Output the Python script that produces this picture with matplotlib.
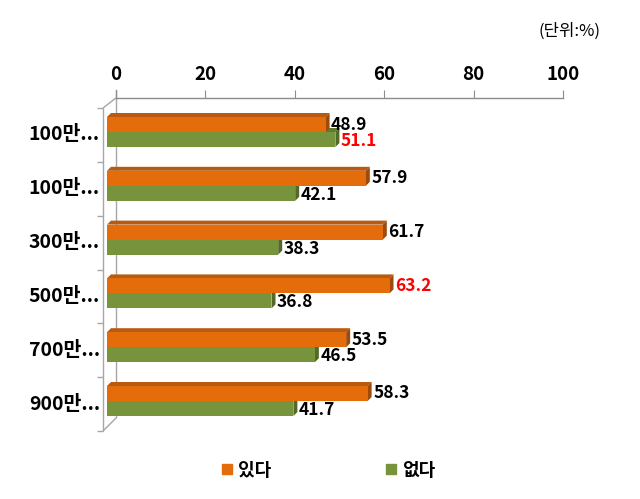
import matplotlib
matplotlib.use("Agg")
import matplotlib.pyplot as plt
from matplotlib.patches import Polygon, Rectangle
from matplotlib.lines import Line2D
import numpy as np

plt.rcParams['font.family'] = ['Noto Sans CJK KR', 'DejaVu Sans']

categories = ["100만...", "100만...", "300만...", "500만...", "700만...", "900만..."]
series_names = ["있다", "없다"]
yes_vals = [48.9, 57.9, 61.7, 63.2, 53.5, 58.3]
no_vals = [51.1, 42.1, 38.3, 36.8, 46.5, 41.7]
yes_label_colors = ["black", "black", "black", "red", "black", "black"]
no_label_colors = ["red", "black", "black", "black", "black", "black"]
xticks = [0, 20, 40, 60, 80, 100]
unit_text = "(단위:%)"

W, H = 640, 499
fig = plt.figure(figsize=(W / 100, H / 100), dpi=100)

# axes: x 0->116px, 100->563px ; y top 98px, bottom 418px
left_px, right_px, top_px, bot_px = 116, 563, 98, 418
ax = fig.add_axes([left_px / W, 1 - bot_px / H, (right_px - left_px) / W, (bot_px - top_px) / H])
pxx = 100 / (right_px - left_px)      # data units per px (x)
pxy = 1 / 53.8                         # data units per px (y)
y0 = 132                               # px of first group boundary
ax.set_xlim(0, 100)
ax.set_ylim((bot_px - y0) * pxy, (top_px - y0) * pxy)

for s in ["left", "right", "bottom"]:
    ax.spines[s].set_visible(False)
ax.spines["top"].set_color("#8C8C8C")
ax.spines["top"].set_linewidth(1.0)
ax.xaxis.tick_top()
ax.set_xticks(xticks)
ax.set_xticklabels([str(t) for t in xticks], fontsize=13.5, fontweight="bold")
ax.tick_params(axis="x", length=6, color="#8C8C8C", pad=4)
ax.set_yticks([])

wall = "#A6A6A6"
# wall geometry
fx = (103 - left_px) * pxx
f_top = (108 - y0) * pxy
f_bot = (431 - y0) * pxy
b_top = (98 - y0) * pxy
b_bot = (418 - y0) * pxy
kw = dict(color=wall, lw=1.0, clip_on=False, solid_capstyle="butt")
ax.plot([0, 0], [b_top, b_bot], **kw)
ax.plot([fx, fx], [f_top, f_bot], **kw)
ax.plot([fx, 0], [f_top, b_top], **kw)
ax.plot([fx, 0], [f_bot, b_bot], **kw)
ax.plot([0, 0], [b_top, b_top - 8 * pxy], color="#8C8C8C", lw=1.0, clip_on=False)
for yt in np.linspace(f_top, f_bot, len(categories) + 1):
    ax.plot([fx - 6 * pxx, fx], [yt, yt], **kw)

# bars
n = len(categories)
bh = 15 * pxy
dx = 4 * pxx
dy = -4 * pxy
x0 = (107 - left_px) * pxx
c_or, c_or_top, c_or_side = "#E46C0A", "#B85A10", "#9E4A0A"
c_gr, c_gr_top, c_gr_side = "#77933C", "#5F7A2E", "#536A27"


def bar3d(yb, yt, v, fc, tc, sc):
    x1 = x0 + v
    ax.add_patch(Polygon([[x0, yt], [x0 + dx, yt + dy], [x1 + dx, yt + dy], [x1, yt]],
                         closed=True, fc=tc, ec="none", clip_on=False, zorder=3))
    ax.add_patch(Polygon([[x1, yt], [x1 + dx, yt + dy], [x1 + dx, yb + dy], [x1, yb]],
                         closed=True, fc=sc, ec="none", clip_on=False, zorder=3))
    ax.add_patch(Rectangle((x0, yt), v, yb - yt, fc=fc, ec="none", clip_on=False, zorder=4))


for i in range(n):
    yb = i  # boundary between orange and green
    bar3d(yb + bh, yb, no_vals[i], c_gr, c_gr_top, c_gr_side)
    bar3d(yb, yb - bh, yes_vals[i], c_or, c_or_top, c_or_side)
    ax.text(x0 + yes_vals[i] + dx + 1.5 * pxx, yb - bh / 2, f"{yes_vals[i]}", ha="left", va="center",
            fontsize=12.5, fontweight="bold", color=yes_label_colors[i], zorder=5)
    ax.text(x0 + no_vals[i] + dx + 1.5 * pxx, yb + bh / 2 + 1.5 * pxy, f"{no_vals[i]}", ha="left", va="center",
            fontsize=12.5, fontweight="bold", color=no_label_colors[i], zorder=5)
    ax.text((100 - left_px) * pxx, (f_top + (i + 0.5) * (f_bot - f_top) / n), categories[i],
            ha="right", va="center", fontsize=14, fontweight="bold", clip_on=False)

fig.text(600 / W, 1 - 31 / H, unit_text, ha="right", va="center", fontsize=12)

handles = [Line2D([], [], marker="s", ls="none", color=c_or, markersize=7),
           Line2D([], [], marker="s", ls="none", color=c_gr, markersize=7)]
leg = fig.legend(handles, series_names, loc="center", bbox_to_anchor=(328 / W, 1 - 470 / H), ncol=2,
                 frameon=False, handlelength=0.7, handletextpad=0.25, columnspacing=6.3,
                 prop={"size": 13, "weight": "bold"})

fig.savefig("out.png", dpi=100)
